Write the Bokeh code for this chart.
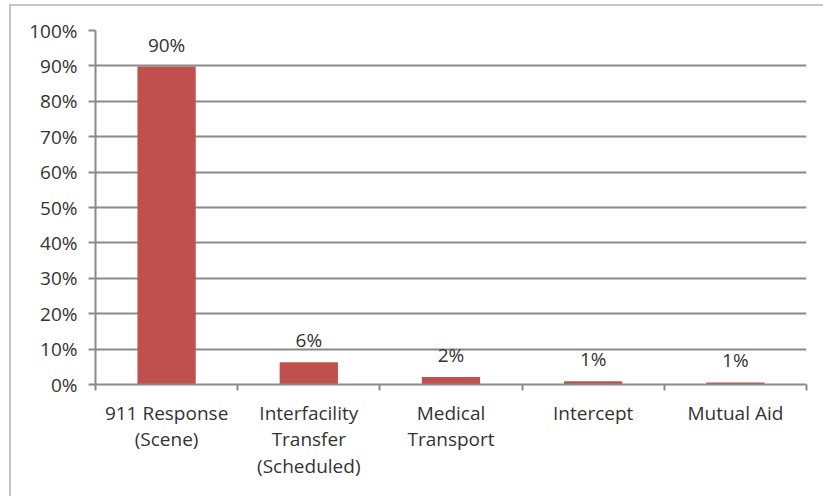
from bokeh.plotting import figure
from bokeh.models import Range1d, FixedTicker, ColumnDataSource, InlineStyleSheet
from bokeh.embed import file_html
from bokeh.resources import INLINE
from bokeh.core.properties import value

categories = ["911 Response\n(Scene)", "Interfacility\nTransfer\n(Scheduled)", "Medical\nTransport", "Intercept", "Mutual Aid"]
shares = [89.8, 6.3, 2.1, 0.9, 0.6]
share_labels = ["90%", "6%", "2%", "1%", "1%"]
y_ticks = [0, 10, 20, 30, 40, 50, 60, 70, 80, 90, 100]

FONT = "Open Sans"
TEXT = "#333333"
GRID = "#8a8a8a"
FS = "19px"

xs = [i + 0.5 for i in range(len(categories))]
src = ColumnDataSource(dict(x=xs, top=shares, lab=share_labels))

border_css = InlineStyleSheet(css=""":host {
  background:
    linear-gradient(#c4c4c4, #c4c4c4) 9px 4px / 2px 100% no-repeat,
    linear-gradient(#c4c4c4, #c4c4c4) 9px 4px / 100% 2px no-repeat;
}""")

p = figure(width=823, height=496, output_backend="svg", toolbar_location=None,
           x_range=Range1d(0, len(categories)), y_range=Range1d(0, 100),
           min_border_left=95, min_border_right=17, min_border_top=30, min_border_bottom=112,
           stylesheets=[border_css])
p.outline_line_color = None
p.background_fill_color = "white"
p.border_fill_color = None

p.vbar(x="x", top="top", width=0.41, bottom=0, source=src, fill_color="#C0504D", line_color=None)
p.text(x="x", y="top", text="lab", source=src, text_align="center", text_baseline="bottom",
       y_offset=-9, text_font=value(FONT), text_font_size=FS, text_color=TEXT)

# y axis
p.yaxis.ticker = FixedTicker(ticks=y_ticks)
p.yaxis.major_label_overrides = {v: f"{v}%" for v in y_ticks}
p.yaxis.major_label_text_font = FONT
p.yaxis.major_label_text_font_size = FS
p.yaxis.major_label_text_color = TEXT
p.yaxis.axis_line_color = GRID
p.yaxis.axis_line_width = 2
p.yaxis.major_tick_line_color = GRID
p.yaxis.major_tick_line_width = 2
p.yaxis.major_tick_out = 7
p.yaxis.major_tick_in = 0
p.yaxis.minor_tick_line_color = None
p.yaxis.major_label_standoff = 11

# x axis
p.xaxis.ticker = FixedTicker(ticks=xs, minor_ticks=list(range(len(categories) + 1)))
p.xaxis.major_label_overrides = {x: c for x, c in zip(xs, categories)}
p.xaxis.major_label_text_font = FONT
p.xaxis.major_label_text_font_size = FS
p.xaxis.major_label_text_color = TEXT
p.xaxis.major_label_text_line_height = 1.02
p.xaxis.axis_line_color = GRID
p.xaxis.axis_line_width = 2
p.xaxis.major_tick_line_color = None
p.xaxis.minor_tick_line_color = GRID
p.xaxis.minor_tick_line_width = 2
p.xaxis.minor_tick_out = 6
p.xaxis.minor_tick_in = 0
p.xaxis.major_label_standoff = 9

p.xgrid.grid_line_color = None
p.ygrid.grid_line_color = GRID
p.ygrid.grid_line_width = 2

open("out.html", "w").write(file_html(p, INLINE))
